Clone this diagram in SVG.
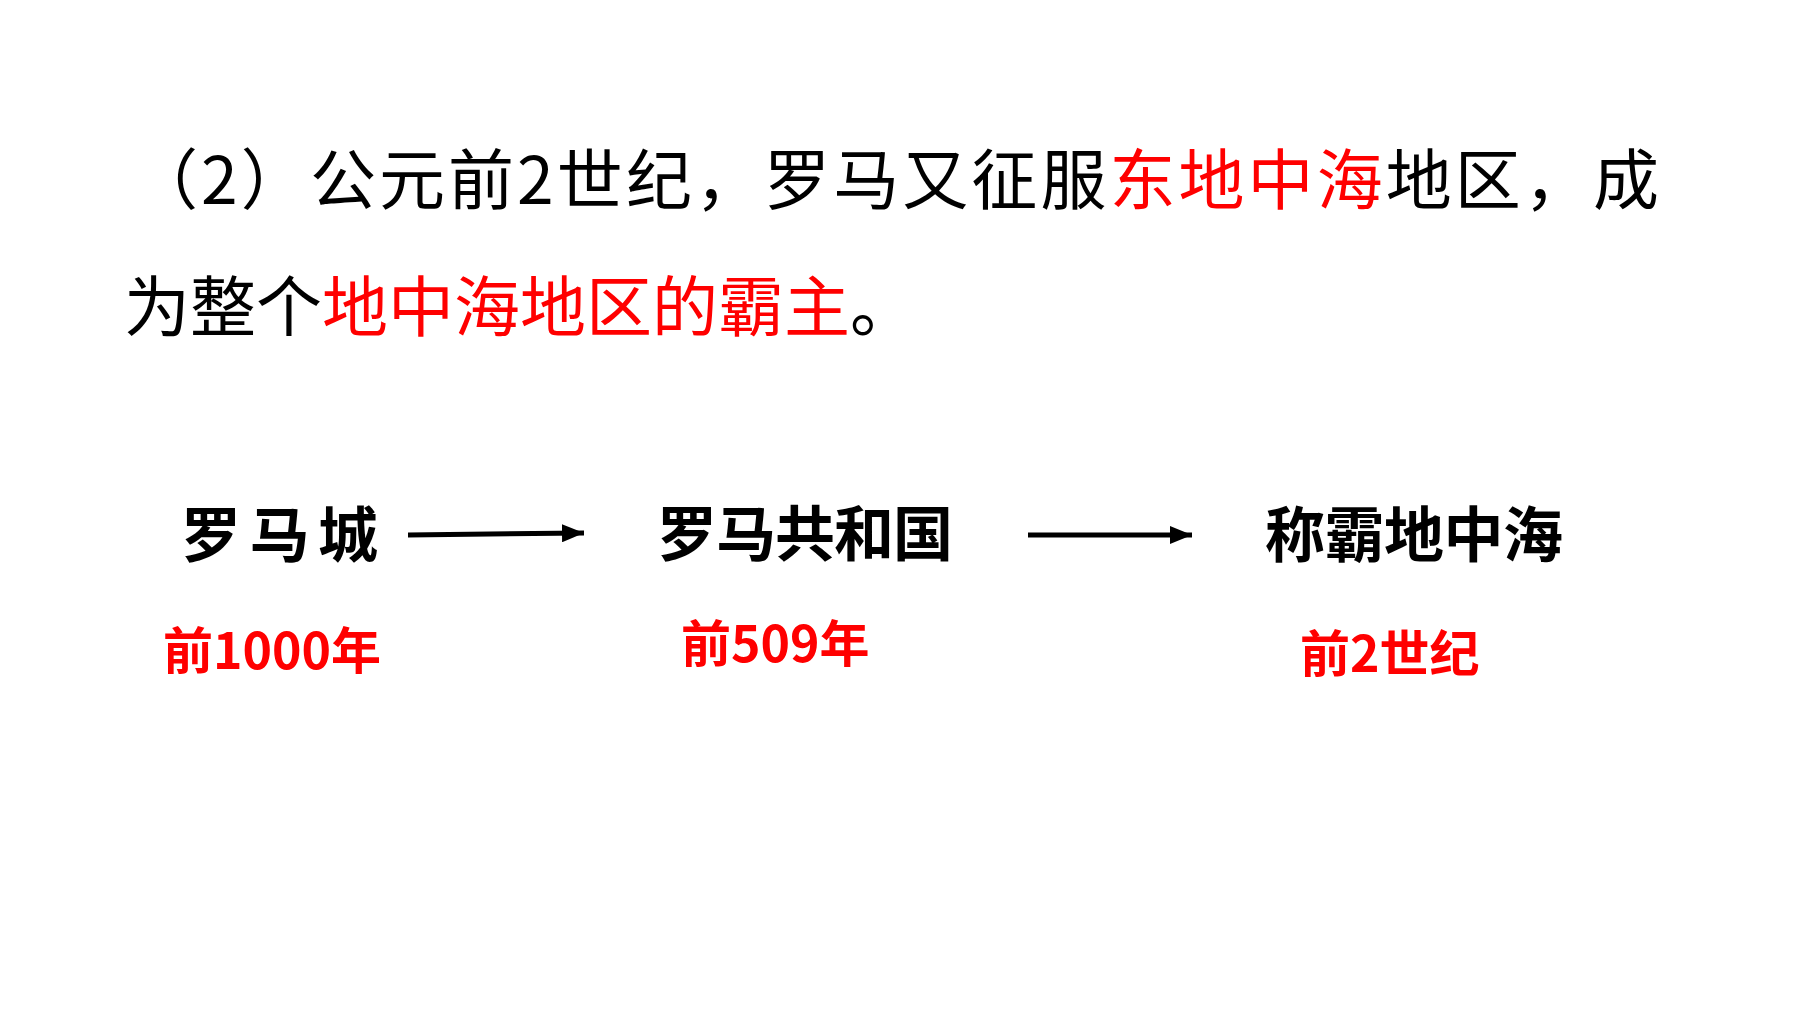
<svg xmlns="http://www.w3.org/2000/svg" width="1800" height="1012" viewBox="0 0 1800 1012">
<style>
.t{font-family:"Microsoft YaHei","Noto Sans CJK SC",sans-serif;font-size:66px;fill:#000}
.r{fill:#ff0000}
.n{font-family:"Noto Sans CJK SC",sans-serif;font-weight:bold;font-size:60px;fill:#000}
.d{font-family:"Noto Sans CJK SC",sans-serif;font-weight:bold;font-size:50px;fill:#ff0000}
</style>
<defs><marker id="a" markerWidth="8" markerHeight="8" refX="7" refY="4" orient="auto" markerUnits="userSpaceOnUse" viewBox="0 0 8 8"><path d="M0,0L8,4L0,8z" fill="#000"/></marker>
<marker id="h" viewBox="0 0 10 10" refX="10" refY="5" markerWidth="22" markerHeight="18" markerUnits="userSpaceOnUse" orient="auto" preserveAspectRatio="none"><path d="M0,0L10,5L0,10z" fill="#000"/></marker></defs>
<rect width="1800" height="1012" fill="#fff"/>
<g id="title">
<text class="t" x="132" y="204" textLength="1527" lengthAdjust="spacing">（2）公元前2世纪，罗马又征服<tspan class="r">东地中海</tspan>地区，成</text>
<text class="t" x="124" y="331">为整个<tspan class="r">地中海地区的霸主</tspan>。</text>
</g>
<g id="n1"><text class="n" x="181" y="557" textLength="197" lengthAdjust="spacing">罗马城</text><text class="d" x="163" y="669">前1000年</text></g>
<g id="n2"><text class="n" x="657" y="556" textLength="296">罗马共和国</text><text class="d" x="681" y="662">前509年</text></g>
<g id="n3"><text class="n" x="1265" y="557" textLength="298">称霸地中海</text><text class="d" x="1300" y="672">前2世纪</text></g>
<g id="connectors" stroke="#000" stroke-width="5">
<line x1="408" y1="535" x2="584" y2="533" marker-end="url(#h)"/>
<line x1="1028" y1="535" x2="1192" y2="535" marker-end="url(#h)"/>
</g>
</svg>
